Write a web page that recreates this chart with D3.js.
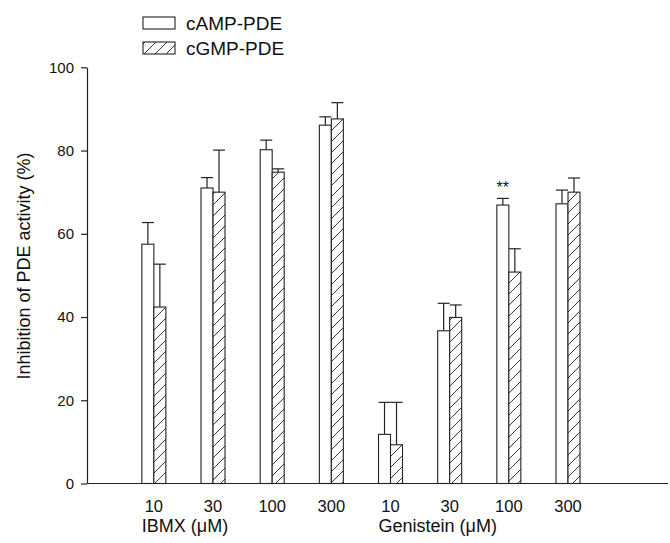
<!DOCTYPE html>
<html><head><meta charset="utf-8">
<script src="https://cdn.jsdelivr.net/npm/d3@7"></script>
<style>body{margin:0;background:#fff}svg{display:block;font-family:"Liberation Sans",Arial,sans-serif}</style>
</head><body><svg id="c" width="670" height="543"></svg>
<script>
const doses = ["10","30","100","300","10","30","100","300"];
const groupLabels = ["IBMX (\u03bcM)","Genistein (\u03bcM)"];
const seriesNames = ["cAMP-PDE","cGMP-PDE"];
const camp = [57.5, 71.0, 80.2, 86.1, 11.8, 36.7, 66.9, 67.2];
const campErr = [5.2, 2.5, 2.3, 2.0, 7.7, 6.6, 1.6, 3.3];
const cgmp = [42.4, 70.0, 74.8, 87.6, 9.3, 39.9, 50.8, 70.0];
const cgmpErr = [10.3, 10.1, 0.8, 3.9, 10.2, 3.0, 5.6, 3.4];
const yTicks = [0,20,40,60,80,100];
const marks = [{i:6, s:0, text:"**"}];

const svg = d3.select("#c");
const ink = "#222";
const x = d3.scaleLinear().domain([-0.13, 9.69]).range([87, 668]);
const y = d3.scaleLinear().domain([0,100]).range([483.5, 67.3]);
const bw = 12;

const defs = svg.append("defs");
const pat = defs.append("pattern").attr("id","hatch").attr("patternUnits","userSpaceOnUse")
  .attr("width",11).attr("height",11);
pat.append("rect").attr("width",11).attr("height",11).attr("fill","#fff");
pat.append("path").attr("d","M0,11 L11,0 M-2,2 L2,-2 M9,13 L13,9").attr("stroke",ink).attr("stroke-width",0.9);

// y axis
const yAxis = svg.append("g").attr("transform","translate(87,0)")
  .call(d3.axisLeft(y).tickValues(yTicks).tickSize(6).tickPadding(7).tickSizeOuter(0));
yAxis.select(".domain").attr("stroke",ink).attr("stroke-width",1.2);
yAxis.selectAll(".tick line").attr("stroke",ink).attr("stroke-width",1.2);
yAxis.selectAll("text").attr("font-size",15).attr("fill","#111").attr("font-family","Liberation Sans, Arial, sans-serif");

// x axis baseline
svg.append("line").attr("x1",x.range()[0]).attr("x2",x.range()[1]).attr("y1",y(0)).attr("y2",y(0))
  .attr("stroke",ink).attr("stroke-width",1.2);

const series = [{v:camp,e:campErr,fill:"#fff",off:-bw},{v:cgmp,e:cgmpErr,fill:"url(#hatch)",off:0}];
series.forEach(s => {
  const g = svg.append("g");
  s.v.forEach((v,i) => {
    const x0 = x(i+1) + s.off;
    const cx = x0 + bw/2;
    g.append("line").attr("x1",cx).attr("x2",cx).attr("y1",y(v)).attr("y2",y(v+s.e[i])).attr("stroke",ink).attr("stroke-width",1.2);
    g.append("line").attr("x1",cx-bw/2).attr("x2",cx+bw/2).attr("y1",y(v+s.e[i])).attr("y2",y(v+s.e[i])).attr("stroke",ink).attr("stroke-width",1.2);
    g.append("rect").attr("x",x0).attr("width",bw).attr("y",y(v)).attr("height",y(0)-y(v))
      .attr("fill",s.fill).attr("stroke",ink).attr("stroke-width",1.1);
  });
});

marks.forEach(m => {
  const s = series[m.s];
  svg.append("text").attr("x", x(m.i+1)+s.off+bw/2).attr("y", y(s.v[m.i]+s.e[m.i])-5)
    .attr("text-anchor","middle").attr("font-size",16).attr("fill","#111").text(m.text);
});

// x tick labels
doses.forEach((d,i) => {
  svg.append("text").attr("x",x(i+1)).attr("y",512).attr("text-anchor","middle")
    .attr("font-size",16.5).attr("fill","#111").text(d);
});
groupLabels.forEach((t,k) => {
  svg.append("text").attr("x",x(k*4+1)-bw).attr("y",532).attr("font-size",18).attr("fill","#111").text(t);
});

// y label
svg.append("text").attr("transform",`translate(30,266) rotate(-90)`)
  .attr("text-anchor","middle").attr("font-size",18).attr("fill","#111").text("Inhibition of PDE activity (%)");

// legend
const fills = ["#fff","url(#hatch)"];
seriesNames.forEach((n,k) => {
  svg.append("rect").attr("x",143).attr("y",17+k*25).attr("width",32).attr("height",12)
    .attr("fill",fills[k]).attr("stroke",ink).attr("stroke-width",1.1);
  svg.append("text").attr("x",186).attr("y",29.5+k*25).attr("font-size",19).attr("fill","#111").text(n);
});
</script></body></html>
